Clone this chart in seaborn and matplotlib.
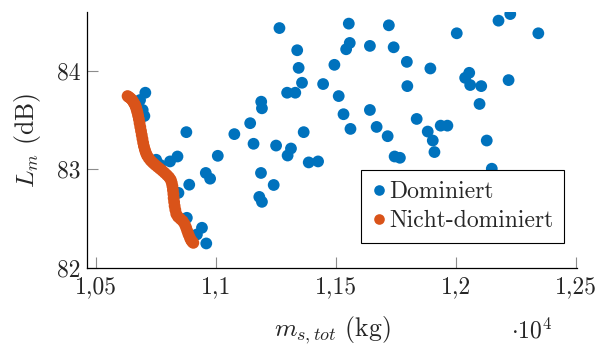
#!/usr/bin/env python3
"""
Scatter plot of the design space: sound level L_m over total mass,
dominated designs vs. the Pareto front (non-dominated designs).
"""

import numpy as np
import pandas as pd
import matplotlib
matplotlib.use("Agg")
import matplotlib.pyplot as plt
import seaborn as sns
from matplotlib.ticker import FuncFormatter, FixedLocator

# dominated designs: total mass (kg), sound level (dB)
dom_mass = [10706, 10684, 10695, 10702, 10877, 10840, 10809, 10751, 10767, 10889,
            10844, 10879, 10942, 10921, 10960, 10958, 10976, 11008, 11077, 11143,
            11157, 11189, 11192, 11188, 11241, 11181, 11192, 11265, 11339, 11345,
            11359, 11297, 11331, 11251, 11313, 11299, 11366, 11387, 11426, 11447,
            11494, 11512, 11532, 11554, 11721, 11558, 11543, 11642, 11741, 11796,
            11798, 11894, 11561, 11642, 11670, 11716, 11837, 11883, 11904, 11911,
            11937, 11965, 11745, 11767, 12004, 12178, 12227, 12344, 12056, 12039,
            12060, 12106, 12220, 12099, 12129, 12150]
dom_level = [83.778, 83.704, 83.603, 83.542, 83.378, 83.131, 83.081, 83.098, 83.047, 82.845,
             82.762, 82.509, 82.408, 82.340, 82.249, 82.964, 82.906, 83.138, 83.358, 83.469,
             83.260, 83.687, 83.620, 82.964, 82.842, 82.721, 82.671, 84.434, 84.209, 84.030,
             83.879, 83.778, 83.778, 83.242, 83.212, 83.141, 83.378, 83.071, 83.081, 83.866,
             84.061, 83.744, 83.560, 84.479, 84.462, 84.283, 84.219, 84.253, 84.239, 84.091,
             83.845, 84.024, 83.411, 83.603, 83.431, 83.337, 83.512, 83.384, 83.293, 83.176,
             83.444, 83.444, 83.131, 83.118, 84.381, 84.509, 84.576, 84.381, 83.980, 83.929,
             83.856, 83.845, 83.906, 83.664, 83.293, 83.007]

# non-dominated designs (Pareto front)
nd_mass = [10632, 10636, 10641, 10647, 10652, 10656, 10660, 10664, 10667, 10670,
           10673, 10676, 10679, 10682, 10685, 10688, 10691, 10694, 10697, 10700,
           10704, 10708, 10713, 10720, 10728, 10737, 10746, 10756, 10766, 10776,
           10786, 10796, 10805, 10812, 10816, 10819, 10821, 10823, 10824, 10826,
           10828, 10831, 10835, 10842, 10852, 10862, 10870, 10876, 10881, 10886,
           10892, 10897, 10902, 10906]
nd_level = [83.744, 83.735, 83.728, 83.715, 83.700, 83.685, 83.668, 83.650, 83.630, 83.605,
            83.578, 83.545, 83.510, 83.470, 83.430, 83.390, 83.350, 83.310, 83.270, 83.235,
            83.200, 83.170, 83.142, 83.115, 83.090, 83.068, 83.048, 83.028, 83.008, 82.988,
            82.966, 82.943, 82.920, 82.895, 82.865, 82.830, 82.790, 82.750, 82.710, 82.670,
            82.630, 82.590, 82.548, 82.520, 82.498, 82.475, 82.445, 82.410, 82.375, 82.340,
            82.305, 82.280, 82.265, 82.255]

labels = ["Dominiert", "Nicht-dominiert"]
colors = {"Dominiert": "#0072BD", "Nicht-dominiert": "#D95319"}
x_ticks = [1.05, 1.1, 1.15, 1.2, 1.25]
y_ticks = [82, 83, 84]


def create_plot():
    df = pd.DataFrame({
        "mass": np.array(dom_mass + nd_mass) / 1e4,
        "level": dom_level + nd_level,
        "group": [labels[0]] * len(dom_mass) + [labels[1]] * len(nd_mass),
    })

    sns.set_style("ticks")
    plt.rcParams["font.family"] = ["cmr10", "DejaVu Serif"]
    plt.rcParams["mathtext.fontset"] = "cm"
    plt.rcParams["axes.formatter.use_mathtext"] = True
    plt.rcParams["font.size"] = 17

    fig = plt.figure(figsize=(5.99, 3.47), dpi=100)
    ax = fig.add_axes([0.1457, 0.2277, 0.8175, 0.7386])

    sns.scatterplot(data=df, x="mass", y="level", hue="group", hue_order=labels,
                    palette=colors, s=72, linewidth=0, alpha=1, ax=ax, zorder=3)

    ax.set_xlim(1.0464, 1.2505)
    ax.set_ylim(82.0, 84.6)
    ax.xaxis.set_major_locator(FixedLocator(x_ticks))
    ax.yaxis.set_major_locator(FixedLocator(y_ticks))
    ax.xaxis.set_major_formatter(FuncFormatter(lambda v, p: f"{v:g}".replace(".", ",")))
    ax.yaxis.set_major_formatter(FuncFormatter(lambda v, p: f"{v:g}"))
    ax.tick_params(direction="in", length=8, width=0.8, color="#8c8c8c", labelsize=17)
    ax.tick_params(axis="x", pad=6)
    ax.tick_params(axis="y", pad=5)

    for side in ["top", "right"]:
        ax.spines[side].set_visible(False)
    for side in ["left", "bottom"]:
        ax.spines[side].set_color("black")
        ax.spines[side].set_linewidth(0.9)

    ax.set_xlabel(r"$m_{s,tot}$ (kg)", fontsize=18.5, labelpad=11)
    ax.set_ylabel(r"$L_m$ (dB)", fontsize=18.5, labelpad=10)
    ax.text(0.949, -0.245, r"$\cdot10^4$", transform=ax.transAxes,
            ha="right", va="center", fontsize=17)

    handles, lbls = ax.get_legend_handles_labels()
    leg = ax.legend(handles, lbls, loc="lower left", bbox_to_anchor=(0.559, 0.0975),
                    frameon=True, fancybox=False, framealpha=1, edgecolor="black",
                    fontsize=17, borderpad=0.45, labelspacing=0.3, handlelength=0.6,
                    handletextpad=0.15, borderaxespad=0, markerscale=0.9)
    leg.get_frame().set_linewidth(0.8)
    leg.set_zorder(5)

    fig.savefig("out.png", dpi=100)
    plt.close(fig)


def main():
    create_plot()


if __name__ == "__main__":
    main()
